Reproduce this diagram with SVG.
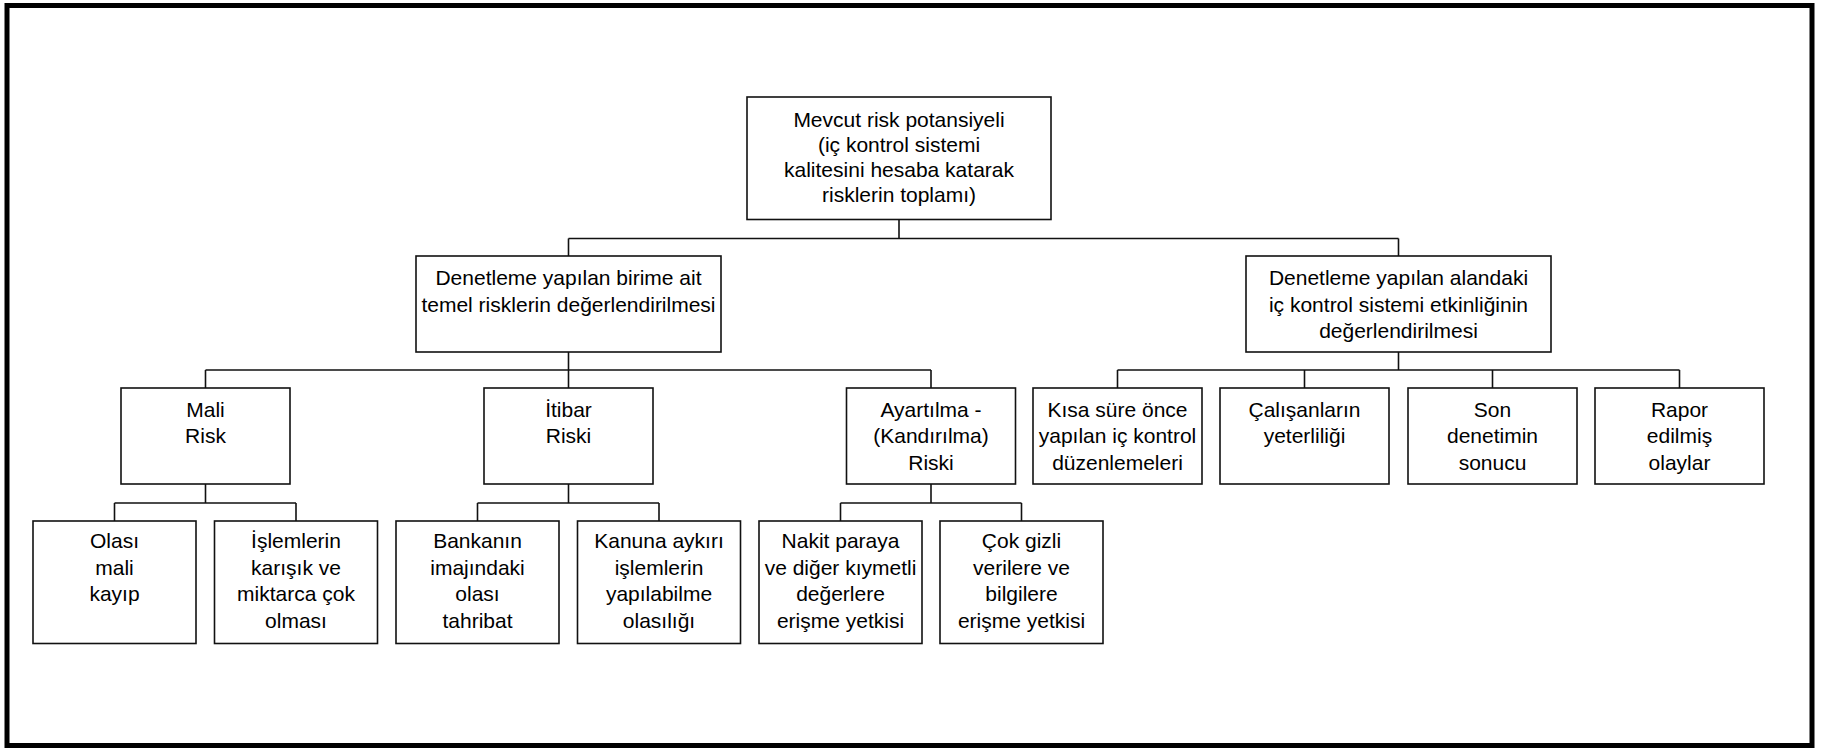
<svg xmlns="http://www.w3.org/2000/svg" width="1828" height="750" viewBox="0 0 1828 750">
  <style>
    .frame { fill: #ffffff; stroke: #000000; stroke-width: 5; }
    .box { fill: #ffffff; stroke: #111111; stroke-width: 1.6; }
    .wire { fill: none; stroke: #111111; stroke-width: 1.6; }
    text { font-family: "Liberation Sans", Arial, sans-serif; font-size: 21px; fill: #000000; text-anchor: middle; }
  </style>

  <!-- outer frame -->
  <rect class="frame" x="7" y="5.5" width="1805" height="740"/>

  <!-- connectors -->
  <g id="connectors">
    <!-- root to level 1 -->
    <path class="wire" d="M899 219.5 V238.5 M568.5 238.5 H1398.5 M568.5 238.5 V256 M1398.5 238.5 V256"/>
    <!-- left level-1 to its three risk types -->
    <path class="wire" d="M568.5 352 V370 M205.5 370 H931 M205.5 370 V388 M568.5 370 V388 M931 370 V388"/>
    <!-- right level-1 to its four factors -->
    <path class="wire" d="M1398.5 352 V370 M1117.5 370 H1679.5 M1117.5 370 V388 M1304.5 370 V388 M1492.5 370 V388 M1679.5 370 V388"/>
    <!-- risk types to their details -->
    <path class="wire" d="M205.5 484 V503 M114.5 503 H296 M114.5 503 V521 M296 503 V521"/>
    <path class="wire" d="M568.5 484 V503 M477.5 503 H659 M477.5 503 V521 M659 503 V521"/>
    <path class="wire" d="M931 484 V503 M840.5 503 H1021.5 M840.5 503 V521 M1021.5 503 V521"/>
  </g>

  <!-- root -->
  <g id="root">
    <rect class="box" x="747" y="97" width="304" height="122.5"/>
    <text x="899" y="126.5">Mevcut risk potansiyeli</text>
    <text x="899" y="151.5">(iç kontrol sistemi</text>
    <text x="899" y="176.5">kalitesini hesaba katarak</text>
    <text x="899" y="201.5">risklerin toplamı)</text>
  </g>

  <!-- level 1 -->
  <g id="temel-riskler">
    <rect class="box" x="416" y="256" width="305" height="96"/>
    <text x="568.5" y="285">Denetleme yapılan birime ait</text>
    <text x="568.5" y="311.5">temel risklerin değerlendirilmesi</text>
  </g>
  <g id="ic-kontrol">
    <rect class="box" x="1246" y="256" width="305" height="96"/>
    <text x="1398.5" y="285">Denetleme yapılan alandaki</text>
    <text x="1398.5" y="311.5">iç kontrol sistemi etkinliğinin</text>
    <text x="1398.5" y="338">değerlendirilmesi</text>
  </g>

  <!-- level 2 -->
  <g id="mali-risk">
    <rect class="box" x="121" y="388" width="169" height="96"/>
    <text x="205.5" y="416.5">Mali</text>
    <text x="205.5" y="443">Risk</text>
  </g>
  <g id="itibar-riski">
    <rect class="box" x="484" y="388" width="169" height="96"/>
    <text x="568.5" y="416.5">İtibar</text>
    <text x="568.5" y="443">Riski</text>
  </g>
  <g id="ayartilma-riski">
    <rect class="box" x="846.5" y="388" width="169" height="96"/>
    <text x="931" y="416.5">Ayartılma -</text>
    <text x="931" y="443">(Kandırılma)</text>
    <text x="931" y="469.5">Riski</text>
  </g>
  <g id="kisa-sure">
    <rect class="box" x="1033" y="388" width="169" height="96"/>
    <text x="1117.5" y="416.5">Kısa süre önce</text>
    <text x="1117.5" y="443">yapılan iç kontrol</text>
    <text x="1117.5" y="469.5">düzenlemeleri</text>
  </g>
  <g id="calisanlar">
    <rect class="box" x="1220" y="388" width="169" height="96"/>
    <text x="1304.5" y="416.5">Çalışanların</text>
    <text x="1304.5" y="443">yeterliliği</text>
  </g>
  <g id="son-denetim">
    <rect class="box" x="1408" y="388" width="169" height="96"/>
    <text x="1492.5" y="416.5">Son</text>
    <text x="1492.5" y="443">denetimin</text>
    <text x="1492.5" y="469.5">sonucu</text>
  </g>
  <g id="rapor">
    <rect class="box" x="1595" y="388" width="169" height="96"/>
    <text x="1679.5" y="416.5">Rapor</text>
    <text x="1679.5" y="443">edilmiş</text>
    <text x="1679.5" y="469.5">olaylar</text>
  </g>

  <!-- level 3 -->
  <g id="olasi-kayip">
    <rect class="box" x="33" y="521" width="163" height="122.5"/>
    <text x="114.5" y="548">Olası</text>
    <text x="114.5" y="574.5">mali</text>
    <text x="114.5" y="601">kayıp</text>
  </g>
  <g id="islemler">
    <rect class="box" x="214.5" y="521" width="163" height="122.5"/>
    <text x="296" y="548">İşlemlerin</text>
    <text x="296" y="574.5">karışık ve</text>
    <text x="296" y="601">miktarca çok</text>
    <text x="296" y="627.5">olması</text>
  </g>
  <g id="banka-imaji">
    <rect class="box" x="396" y="521" width="163" height="122.5"/>
    <text x="477.5" y="548">Bankanın</text>
    <text x="477.5" y="574.5">imajındaki</text>
    <text x="477.5" y="601">olası</text>
    <text x="477.5" y="627.5">tahribat</text>
  </g>
  <g id="kanuna-aykiri">
    <rect class="box" x="577.5" y="521" width="163" height="122.5"/>
    <text x="659" y="548">Kanuna aykırı</text>
    <text x="659" y="574.5">işlemlerin</text>
    <text x="659" y="601">yapılabilme</text>
    <text x="659" y="627.5">olasılığı</text>
  </g>
  <g id="nakit-erisim">
    <rect class="box" x="759" y="521" width="163" height="122.5"/>
    <text x="840.5" y="548">Nakit paraya</text>
    <text x="840.5" y="574.5">ve diğer kıymetli</text>
    <text x="840.5" y="601">değerlere</text>
    <text x="840.5" y="627.5">erişme yetkisi</text>
  </g>
  <g id="gizli-veri">
    <rect class="box" x="940" y="521" width="163" height="122.5"/>
    <text x="1021.5" y="548">Çok gizli</text>
    <text x="1021.5" y="574.5">verilere ve</text>
    <text x="1021.5" y="601">bilgilere</text>
    <text x="1021.5" y="627.5">erişme yetkisi</text>
  </g>
</svg>
